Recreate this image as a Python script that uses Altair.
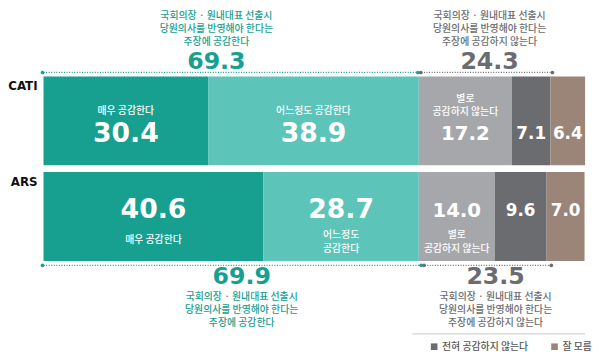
import altair as alt
import pandas as pd

groups = ["CATI", "ARS"]
categories = ["매우 공감한다", "어느정도 공감한다", "별로 공감하지 않는다", "전혀 공감하지 않는다", "잘 모름"]
cati_values = [30.4, 38.9, 17.2, 7.1, 6.4]
ars_values = [40.6, 28.7, 14.0, 9.6, 7.0]
cati_seg_labels = ["매우 공감한다", "어느정도 공감한다", "별로\n공감하지 않는다", "", ""]
ars_seg_labels = ["매우 공감한다", "어느정도\n공감한다", "별로\n공감하지 않는다", "", ""]
agree_totals = [69.3, 69.9]
disagree_totals = [24.3, 23.5]
agree_text = "국회의장 · 원내대표 선출시\n당원의사를 반영해야 한다는\n주장에 공감한다"
disagree_text = "국회의장 · 원내대표 선출시\n당원의사를 반영해야 한다는\n주장에 공감하지 않는다"

colors = ["#17a08f", "#5cc4b9", "#a6a7ab", "#6b6c70", "#9b8579"]
TEAL = "#17a08f"
GRAY = "#6b6c70"
KFONT = "Noto Sans CJK KR"
NFONT = "DejaVu Sans"

rows = []
for g, vals, labs in [("CATI", cati_values, cati_seg_labels), ("ARS", ars_values, ars_seg_labels)]:
    s = 0.0
    for i, (cat, v, lab) in enumerate(zip(categories, vals, labs)):
        rows.append(dict(group=g, category=cat, idx=i, value=v, start=s, end=s + v, mid=s + v / 2,
                         label=lab, multi=("\n" in lab), num=f"{v:.1f}"))
        s += v
df = pd.DataFrame(rows)

ann_rows, dot_rows = [], []
for g, a, d in zip(groups, agree_totals, disagree_totals):
    ann_rows.append(dict(group=g, kind="agree", start=0.0, end=a, mid=a / 2, num=f"{a:.1f}", text=agree_text))
    ann_rows.append(dict(group=g, kind="disagree", start=a, end=a + d, mid=a + d / 2, num=f"{d:.1f}", text=disagree_text))
    dot_rows += [dict(group=g, kind="agree", x=0.0), dict(group=g, kind="agree", x=a),
                 dict(group=g, kind="disagree", x=a), dict(group=g, kind="disagree", x=a + d)]
ann = pd.DataFrame(ann_rows)
dots = pd.DataFrame(dot_rows)

xs = alt.Scale(domain=[0, 100], nice=False, zero=False)
ys = alt.Scale(domain=groups, paddingInner=0.0722, paddingOuter=0)
X = lambda f: alt.X(f, type="quantitative", scale=xs, axis=None)
Y = alt.Y("group:N", scale=ys, axis=None)

bars = alt.Chart(df).mark_bar().encode(
    x=X("start"), x2="end", y=Y,
    color=alt.Color("category:N", scale=alt.Scale(domain=categories, range=colors),
                    legend=alt.Legend(values=categories[3:], title=None, orient="none",
                                      legendX=391, legendY=269, direction="horizontal",
                                      symbolType="square", symbolSize=45, symbolStrokeWidth=0,
                                      labelFont=KFONT, labelFontSize=10, labelColor="#555555",
                                      labelFontWeight=500, columnPadding=21, labelOffset=3)),
)

layers = [bars]

def seg_num(g, cond, off, size):
    return alt.Chart(df).transform_filter(alt.datum.group == g).transform_filter(cond).mark_text(
        font=NFONT, fontWeight="bold", fontSize=size, color="white",
        baseline="middle", yOffset=off).encode(x=X("mid"), y=Y, text="num:N")

def cat_text(g, multi, off):
    return alt.Chart(df).transform_filter(
        (alt.datum.group == g) & (alt.datum.multi == multi) & (alt.datum.label != "")
    ).mark_text(font=KFONT, fontWeight=500, fontSize=10, color="white", baseline="middle",
                lineBreak="\n", lineHeight=13.5, yOffset=off).encode(x=X("mid"), y=Y, text="label:N")

layers += [seg_num("CATI", alt.datum.idx < 2, 13, 27),
           seg_num("CATI", alt.datum.idx == 2, 13, 20),
           seg_num("CATI", alt.datum.idx > 2, 13, 17),
           seg_num("ARS", alt.datum.idx < 2, -6, 27),
           seg_num("ARS", alt.datum.idx == 2, -6, 20),
           seg_num("ARS", alt.datum.idx > 2, -6, 17),
           cat_text("CATI", False, -10), cat_text("CATI", True, -22),
           cat_text("ARS", False, 24), cat_text("ARS", True, 19)]

def ann_layers(g, line_off, num_off, txt_off, agree_dx, dis_dx):
    out = []
    for kind, col, dx in [("agree", TEAL, agree_dx), ("disagree", GRAY, dis_dx)]:
        sub = alt.Chart(ann).transform_filter((alt.datum.group == g) & (alt.datum.kind == kind))
        out.append(sub.mark_rule(color=col, strokeDash=[1, 1.6], strokeWidth=1.3,
                                 yOffset=line_off).encode(x=X("start"), x2="end", y=Y))
        out.append(alt.Chart(dots).transform_filter((alt.datum.group == g) & (alt.datum.kind == kind))
                   .mark_circle(color=col, opacity=1, size=14, yOffset=line_off,
                                xOffset=(-1 if kind == "agree" else 2))
                   .encode(x=X("x"), y=Y))
        out.append(sub.mark_text(font=NFONT, fontWeight="bold", fontSize=24, color=col,
                                 baseline="middle", yOffset=num_off, xOffset=dx)
                   .encode(x=X("mid"), y=Y, text="num:N"))
        out.append(sub.mark_text(font=KFONT, fontWeight=500, fontSize=10, color=col,
                                 baseline="middle", lineBreak="\n", lineHeight=13.2,
                                 yOffset=txt_off, xOffset=dx)
                   .encode(x=X("mid"), y=Y, text="text:N"))
    return out

layers += ann_layers("CATI", -49, -60, -106.5, -15, 5)
layers += ann_layers("ARS", 49.5, 61.5, 82, 9, 10)

row_labels = alt.Chart(pd.DataFrame({"group": groups})).mark_text(
    font=NFONT, fontWeight="bold", fontSize=12, color="#111111", align="right",
    baseline="middle", yOffset=-35).encode(x=alt.value(-6), y=Y, text="group:N")
sep = alt.Chart(pd.DataFrame({"group": ["ARS"]})).mark_rule(color="#c8c8c8", strokeWidth=1).encode(
    x=alt.value(374), x2=alt.value(549), y=alt.value(261))
layers += [row_labels, sep]

chart = alt.layer(*layers).properties(
    width=549, height=187,
    autosize=alt.AutoSizeParams(type="none"),
    padding={"left": 36, "top": 67, "right": 7, "bottom": 90},
).configure_view(stroke=None)

chart.save("out.html", embed_options={"renderer": "svg", "actions": False})
